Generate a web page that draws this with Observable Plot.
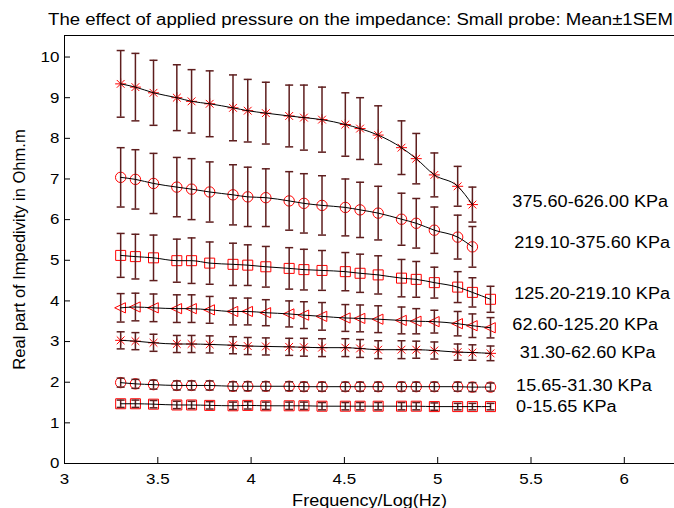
<!DOCTYPE html>
<html><head><meta charset="utf-8">
<script src="https://cdn.jsdelivr.net/npm/d3@7"></script>
<script src="https://cdn.jsdelivr.net/npm/@observablehq/plot@0.6"></script>
<style>
html,body{margin:0;padding:0;background:#fff;overflow:hidden;}
#chart{width:674px;height:508px;position:relative;}
</style></head><body><div id="chart"></div>
<script>
// log10 of frequency (Hz)
const logFreq = [3.301, 3.380, 3.477, 3.602, 3.681, 3.778, 3.903, 3.982, 4.079, 4.204, 4.283,
                 4.380, 4.505, 4.584, 4.681, 4.806, 4.885, 4.982, 5.107, 5.186, 5.283];

const seriesLabels = ["0-15.65 KPa", "15.65-31.30 KPa", "31.30-62.60 KPa", "62.60-125.20 KPa",
                      "125.20-219.10 KPa", "219.10-375.60 KPa", "375.60-626.00 KPa"];

const mean0 = [1.47, 1.47, 1.46, 1.44, 1.44, 1.43, 1.42, 1.43, 1.42, 1.42, 1.42, 1.41, 1.41, 1.41, 1.41, 1.41, 1.41, 1.40, 1.40, 1.40, 1.40];
const sem0  = [0.09, 0.09, 0.09, 0.09, 0.09, 0.09, 0.09, 0.09, 0.09, 0.09, 0.09, 0.09, 0.09, 0.09, 0.09, 0.09, 0.09, 0.09, 0.08, 0.08, 0.08];
const mean1 = [1.99, 1.96, 1.94, 1.92, 1.92, 1.92, 1.90, 1.90, 1.90, 1.90, 1.89, 1.89, 1.89, 1.89, 1.89, 1.89, 1.89, 1.89, 1.89, 1.88, 1.88];
const sem1  = [0.11, 0.11, 0.11, 0.11, 0.11, 0.11, 0.11, 0.11, 0.11, 0.11, 0.11, 0.11, 0.11, 0.11, 0.11, 0.11, 0.11, 0.11, 0.11, 0.11, 0.10];
const mean2 = [3.03, 3.01, 2.97, 2.94, 2.94, 2.93, 2.91, 2.89, 2.88, 2.87, 2.86, 2.85, 2.85, 2.83, 2.80, 2.80, 2.80, 2.78, 2.74, 2.73, 2.71];
const sem2  = [0.21, 0.21, 0.21, 0.21, 0.21, 0.21, 0.21, 0.21, 0.21, 0.21, 0.22, 0.22, 0.22, 0.22, 0.22, 0.22, 0.21, 0.21, 0.20, 0.19, 0.18];
const mean3 = [3.83, 3.85, 3.83, 3.81, 3.81, 3.78, 3.74, 3.74, 3.71, 3.68, 3.65, 3.62, 3.58, 3.57, 3.55, 3.52, 3.50, 3.49, 3.44, 3.39, 3.34];
const sem3  = [0.35, 0.34, 0.34, 0.34, 0.34, 0.33, 0.33, 0.33, 0.32, 0.32, 0.33, 0.34, 0.33, 0.33, 0.33, 0.33, 0.31, 0.28, 0.30, 0.29, 0.25];
const mean4 = [5.12, 5.09, 5.06, 4.99, 4.99, 4.93, 4.90, 4.88, 4.84, 4.80, 4.77, 4.75, 4.72, 4.68, 4.64, 4.56, 4.53, 4.45, 4.34, 4.21, 4.04];
const sem4  = [0.54, 0.55, 0.56, 0.53, 0.56, 0.52, 0.52, 0.50, 0.50, 0.51, 0.50, 0.49, 0.47, 0.47, 0.47, 0.46, 0.44, 0.38, 0.38, 0.36, 0.32];
const mean5 = [7.04, 6.99, 6.89, 6.80, 6.75, 6.68, 6.61, 6.56, 6.54, 6.46, 6.40, 6.35, 6.30, 6.24, 6.16, 6.01, 5.91, 5.74, 5.57, 5.33];
const sem5  = [0.73, 0.73, 0.74, 0.73, 0.75, 0.74, 0.74, 0.73, 0.71, 0.72, 0.73, 0.73, 0.70, 0.68, 0.66, 0.64, 0.61, 0.57, 0.54, 0.50];
const mean6 = [9.34, 9.26, 9.12, 9.00, 8.91, 8.85, 8.75, 8.68, 8.62, 8.55, 8.51, 8.46, 8.34, 8.24, 8.08, 7.77, 7.50, 7.10, 6.82, 6.37];
const sem6  = [0.82, 0.83, 0.80, 0.81, 0.78, 0.81, 0.81, 0.77, 0.76, 0.76, 0.80, 0.80, 0.78, 0.76, 0.72, 0.66, 0.62, 0.54, 0.49, 0.43];

const labelX = [5.42, 5.42, 5.44, 5.40, 5.41, 5.41, 5.40];
const labelY = [1.40, 1.92, 2.71, 3.41, 4.17, 5.44, 6.43];

const xTicks = [3, 3.5, 4, 4.5, 5, 5.5, 6];
const yTicks = [0, 1, 2, 3, 4, 5, 6, 7, 8, 9, 10];
const xDomain = [3, 6.269];
const yDomain = [0, 10.53];

const titleText = "The effect of applied pressure on the impedance: Small probe: Mean\u00b11SEM";
const xLabelText = "Frequency/Log(Hz)";
const yLabelText = "Real part of Impedivity in Ohm.m";

// ---- build table ----
const means = [mean0, mean1, mean2, mean3, mean4, mean5, mean6];
const sems = [sem0, sem1, sem2, sem3, sem4, sem5, sem6];
const rows = [];
means.forEach((m, s) => m.forEach((v, j) => rows.push({series: s, x: logFreq[j], y: v, e: sems[s][j]})));

// ---- marker shapes ----
function sym(fn) { return {draw(c, size) { const r = Math.sqrt(size / Math.PI); fn(c, r); }}; }
const symCircle = sym((c, r) => { c.moveTo(r, 0); c.arc(0, 0, r, 0, 2 * Math.PI); });
const symSquare = sym((c, r) => { c.rect(-r, -r, 2 * r, 2 * r); });
const symStar = sym((c, r) => { for (let k = 0; k < 4; k++) { const a = k * Math.PI / 4; c.moveTo(r * Math.cos(a), r * Math.sin(a)); c.lineTo(-r * Math.cos(a), -r * Math.sin(a)); } });
const symTriLeft = sym((c, r) => { c.moveTo(-r, 0); c.lineTo(0.8 * r, -0.85 * r); c.lineTo(0.8 * r, 0.85 * r); c.closePath(); });
const symCap = sym((c, r) => { c.moveTo(-r, 0); c.lineTo(r, 0); });
const seriesSymbols = [symSquare, symCircle, symStar, symTriLeft, symSquare, symCircle, symStar];
const seriesR = [5, 5.2, 5.5, 6, 5, 5.2, 5.5];

const W = 674, H = 508, mL = 64, mR = 0, mT = 35, mB = 45;
const frameW = W - mL - mR, frameH = H - mT - mB;
const barColor = "#5e1e1e";

const marks = [
  // frame lines
  Plot.ruleY([yDomain[0], yDomain[1]], {stroke: "black", strokeWidth: 1}),
  Plot.ruleX([xDomain[0]], {stroke: "black", strokeWidth: 1}),
  // inward ticks
  Plot.tickX(xTicks, {x: d => d, insetTop: frameH - 6, stroke: "black"}),
  Plot.tickY(yTicks, {y: d => d, insetRight: frameW - 6, stroke: "black"}),
  Plot.axisX({ticks: xTicks, tickSize: 0, tickPadding: 10, tickFormat: d => String(d), label: null, fontSize: 15}),
  Plot.axisY({ticks: yTicks, tickSize: 0, tickPadding: 5, tickFormat: d => String(d), label: null, fontSize: 15}),
];

seriesSymbols.forEach((s, i) => {
  marks.push(Plot.dot(rows.filter(d => d.series === i), {x: "x", y: "y", symbol: s, r: seriesR[i], fill: "none", stroke: "#ff0000", strokeWidth: 1}));
});

marks.push(
  Plot.ruleX(rows, {x: "x", y1: d => d.y - d.e, y2: d => d.y + d.e, stroke: barColor, strokeWidth: 1.5}),
  Plot.dot(rows, {x: "x", y: d => d.y + d.e, symbol: symCap, r: 4, fill: "none", stroke: barColor, strokeWidth: 1.5}),
  Plot.dot(rows, {x: "x", y: d => d.y - d.e, symbol: symCap, r: 4, fill: "none", stroke: barColor, strokeWidth: 1.5}),
  Plot.line(rows, {x: "x", y: "y", z: "series", stroke: "black", strokeWidth: 1, curve: "monotone-x"}),
  Plot.text(d3.range(seriesLabels.length), {x: i => labelX[i], y: i => labelY[i], text: i => seriesLabels[i], textAnchor: "start", lineAnchor: "middle", fontSize: 16, fill: "black"}),
  Plot.text([titleText], {text: d => d, frameAnchor: "top", textAnchor: "middle", lineAnchor: "middle", dx: -9, dy: -16, fontSize: 16, fill: "black"}),
  Plot.text([xLabelText], {text: d => d, frameAnchor: "bottom", textAnchor: "middle", lineAnchor: "middle", dy: 37, fontSize: 16, fill: "black"}),
  Plot.text([yLabelText], {text: d => d, frameAnchor: "left", textAnchor: "middle", lineAnchor: "middle", rotate: -90, dx: -44.5, fontSize: 16.5, fill: "black"})
);

const svg = Plot.plot({
  width: W, height: H,
  marginLeft: mL, marginRight: mR, marginTop: mT, marginBottom: mB,
  x: {domain: xDomain, label: null},
  y: {domain: yDomain, label: null},
  style: {fontFamily: "'Liberation Sans', Arial, sans-serif", color: "black", background: "white", overflow: "visible"},
  marks
});
document.getElementById("chart").append(svg);

// the reference rendering is horizontally widened; widen horizontal text to match
svg.querySelectorAll("text").forEach(t => {
  if ((t.getAttribute("transform") || "").includes("rotate")) return;
  const isTitle = t.textContent === titleText;
  const S = isTitle ? 1.16 : 1.13;
  const w = t.getComputedTextLength();
  if (w > 0) { t.setAttribute("textLength", (w * S).toFixed(1)); t.setAttribute("lengthAdjust", "spacingAndGlyphs"); }
});
</script>
</body></html>
